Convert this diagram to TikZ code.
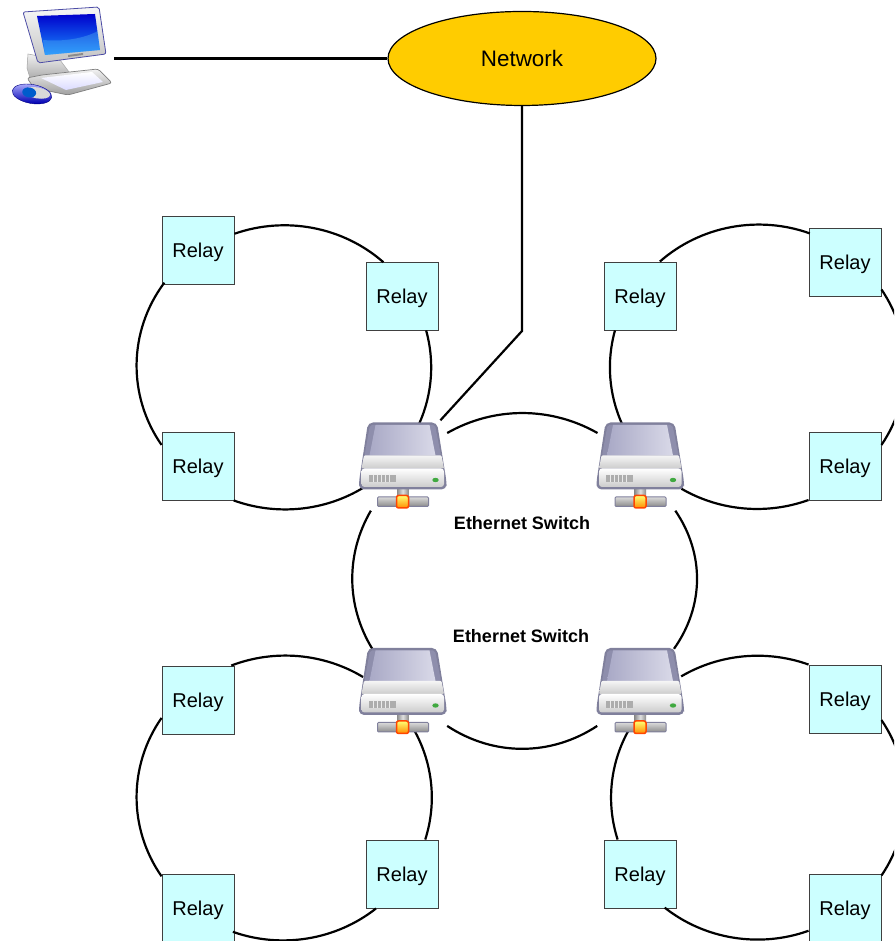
\documentclass[tikz,border=0pt]{standalone}
\usepackage{fontspec}
\usetikzlibrary{shapes.geometric}
\setmainfont{Liberation Sans}
\definecolor{relayfill}{HTML}{CCFFFF}
\definecolor{netfill}{HTML}{FFCC00}
\definecolor{swedge}{HTML}{80809C}
\definecolor{swtopa}{HTML}{A9A9C6}
\definecolor{swtopb}{HTML}{D9D9E8}
\definecolor{swside}{HTML}{8E8EAC}
\tikzset{
  relay/.style={draw=black!75,line width=0.9pt,fill=relayfill,minimum width=72pt,minimum height=68pt,inner sep=0pt,text depth=0pt,font=\fontsize{20}{24}\selectfont},
  netnode/.style={draw=black,line width=1.2pt,fill=netfill,ellipse,minimum width=268pt,minimum height=94pt,inner sep=0pt,font=\fontsize{22.4}{26}\selectfont},
  swnode/.style={minimum width=89pt,minimum height=90pt,inner sep=0pt},
  pcnode/.style={minimum width=104pt,minimum height=100pt,inner sep=0pt},
  swlabel/.style={font=\bfseries\fontsize{18}{22}\selectfont,inner sep=0pt},
  link/.style={line width=2.2pt,black},
  switchicon/.pic={
    % stem and bar
    \shade[left color=black!45,right color=black!45,middle color=black!12] (-5.5,-34) rectangle (6,-19);
    \shade[top color=black!15,bottom color=black!45,rounded corners=1pt,draw=swedge,line width=1pt] (-25,-41) rectangle (26,-31.5);
    \shade[top color=yellow!55!white,bottom color=orange!90!yellow,draw=orange!55!red,line width=1.5pt,rounded corners=2pt] (-6,-42.5) rectangle (6,-30);
    % body
    \fill[swedge,rounded corners=5pt] (-43.5,-24) -- (-43.5,-16) -- (-34.5,43) -- (34.5,43) -- (44,-16) -- (44,-24) -- cycle;
    \fill[swside,rounded corners=2pt] (-32.5,40.5) -- (32.5,40.5) -- (38.5,10) -- (-38,10) -- cycle;
    \shade[left color=swtopa,right color=swtopb] (-27,40.5) -- (27,40.5) -- (33,10) -- (-33,10) -- cycle;
    \shade[top color=black!4,bottom color=black!20,rounded corners=1pt] (-38.5,10) -- (39,10) -- (41.5,-3) -- (-41,-3) -- cycle;
    \shade[top color=white,bottom color=black!20,rounded corners=3pt] (-41,-3) rectangle (41.5,-21.5);
    \fill[black!32] (-34,-10) rectangle (-7,-17);
    \foreach \vx in {-30,-26,-22,-18,-14} {\fill[black!8] (\vx,-10) rectangle ++(1.2,-7);}
    \fill[green!55!black!75!white] (33,-14.5) ellipse (3.2pt and 2.2pt);
  }
}
\begin{document}
\begin{tikzpicture}[x=1pt,y=1pt]
\clip (0,0) rectangle (894,941);
\fill[white] (0,0) rectangle (894,941);

% nodes
\node[relay] (A) at (198,691) {Relay};
\node[relay] (B) at (402,645) {Relay};
\node[relay] (C) at (198,475) {Relay};
\node[relay] (D) at (640,645) {Relay};
\node[relay] (E) at (845,679) {Relay};
\node[relay] (F) at (845,475) {Relay};
\node[relay] (G) at (198,241) {Relay};
\node[relay] (H) at (402,67) {Relay};
\node[relay] (I) at (198,33) {Relay};
\node[relay] (J) at (845,242) {Relay};
\node[relay] (K) at (640,67) {Relay};
\node[relay] (L) at (845,33) {Relay};
\node[swnode] (S1) at (402.5,475.5) {};
\node[swnode] (S2) at (640,475.5) {};
\node[swnode] (S3) at (402.5,250) {};
\node[swnode] (S4) at (640,250) {};
\node[netnode] (Net) at (522,882.5) {Network};
\node[pcnode] (PC) at (62,882.5) {};
\coordinate (bend) at (522,610);
\node[swlabel] (L1) at (522,418) {Ethernet Switch};
\node[swlabel] (L2) at (521,305) {Ethernet Switch};

% top-left ring
\draw[link] (A.24.6) arc[start angle=109.9,end angle=47.7,x radius=147,y radius=142];
\draw[link] (B.305.1) arc[start angle=15.1,end angle=-23.2,x radius=147,y radius=142];
\draw[link] (C.-44.6) arc[start angle=-110.5,end angle=-57.7,x radius=147,y radius=142];
\draw[link] (C.150.9) arc[start angle=213.9,end angle=144.2,x radius=147,y radius=142];
% top-right ring
\draw[link] (D.60.8) arc[start angle=132.3,end angle=69.7,x radius=147,y radius=142];
\draw[link] (E.-37.1) arc[start angle=33.2,end angle=-33.2,x radius=147,y radius=142];
\draw[link] (F.223.8) arc[start angle=-69.5,end angle=-121,x radius=147,y radius=142];
\draw[link] (D.234.8) arc[start angle=164.9,end angle=203.2,x radius=147,y radius=142];
% bottom-left ring
\draw[link] (G.46.9) arc[start angle=111.6,end angle=58.1,x radius=147,y radius=142];
\draw[link] (H.56.6) arc[start angle=-17.2,end angle=28.9,x radius=147,y radius=142];
\draw[link] (H.233.7) arc[start angle=-50.8,end angle=-110,x radius=147,y radius=142];
\draw[link] (I.139.3) arc[start angle=213.9,end angle=146.1,x radius=147,y radius=142];
% bottom-right ring
\draw[link] (J.north west) arc[start angle=69.7,end angle=121.3,x radius=147,y radius=142];
\draw[link] (J.-30.5) arc[start angle=33.2,end angle=-33.2,x radius=147,y radius=142];
\draw[link] (L.212.6) arc[start angle=-69.7,end angle=-129.2,x radius=147,y radius=142];
\draw[link] (K.123.4) arc[start angle=197.2,end angle=151.1,x radius=147,y radius=142];
% central ring
\draw[link] (S1.36.1) arc[start angle=118.4,end angle=61.6,x radius=158,y radius=166];
\draw[link] (S3.-38.9) arc[start angle=-120,end angle=-60,x radius=150,y radius=171];
\draw[link] (S1.235.2) arc[start angle=153.1,end angle=208,x radius=172,y radius=150];
\draw[link] (S2.-52.1) arc[start angle=29.1,end angle=-30,x radius=172,y radius=140];
% network links
\draw[link] (PC.east) -- (Net.west);
\draw[link] (Net.south) -- (bend) -- (S1.50);

% switch icons
\pic at (S1.center) {switchicon};
\pic at (S2.center) {switchicon};
\pic at (S3.center) {switchicon};
\pic at (S4.center) {switchicon};

% computer icon (pixel coordinates, y downward)
\begin{scope}[shift={(0,941)},y=-1pt]
  \shade[top color=black!6,bottom color=black!32,draw=black!35,line width=.5pt] (28,54) -- (27,68) -- (30,78) -- (72,76) -- (66,68) -- (60,60) -- cycle;
  \shade[top color=black!3,bottom color=black!24,draw=black!50!blue!70!white,line width=.8pt,rounded corners=2pt] (23,12) -- (99,7) -- (106,54) -- (38,63) -- cycle;
  \shade[top color=blue!80!black,bottom color=blue!50!cyan!90!white] (37,16) -- (95,14) -- (100,50) -- (45,55) -- cycle;
  \fill[cyan!60!white,opacity=.3] (43,40) .. controls (65,42) and (85,38) .. (98,31) -- (100,50) -- (45,55) -- cycle;
  \fill[black!45] (68,55) -- (83,53) -- (83,55) -- (68,57) -- cycle;
  \shade[top color=black!5,bottom color=black!38,draw=black!50,line width=.7pt,rounded corners=2.5pt] (27,78) -- (42,75) -- (98,69) -- (112,83) -- (68,95) -- (34,88) -- cycle;
  \shade[top color=white,bottom color=blue!14!white] (41,78) -- (92,72) -- (103,82) -- (66,90) -- cycle;
  \begin{scope}[shift={(32,94)},rotate=-10]
    \shade[top color=blue!30!white,bottom color=blue!70!black,draw=blue!50!black,line width=.4pt] (0,0) ellipse (20pt and 9.5pt);
    \fill[black!15] (5,-2) ellipse (13pt and 5.5pt);
    \fill[blue!55!cyan!80!black] (-3,-1) ellipse (7pt and 5pt);
  \end{scope}
\end{scope}
\end{tikzpicture}
\end{document}
